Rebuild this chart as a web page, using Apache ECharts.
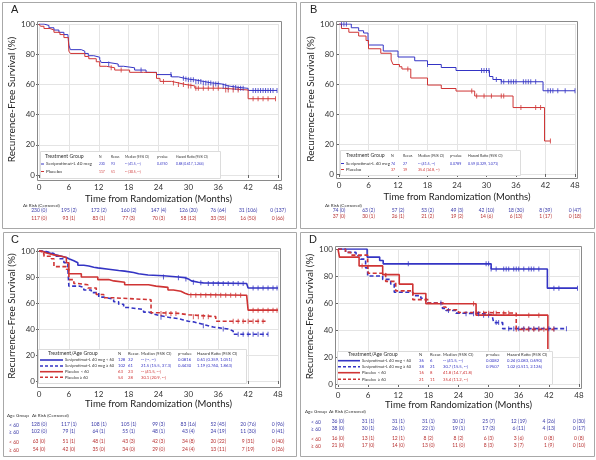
<!DOCTYPE html>
<html><head><meta charset="utf-8">
<script src="https://cdn.jsdelivr.net/npm/echarts@6/dist/echarts.min.js"></script>
<style>html,body{margin:0;padding:0;background:#fff}#c{width:596px;height:460px}</style>
</head><body><div id="c"></div>
<script>
// ---------- DATA ----------
const months = [0,6,12,18,24,30,36,42,48];
const yTicks = [0,20,40,60,80,100];

// Panel A (all patients)
const aSevi = [[0,100],[1,99],[2,97.5],[3,96],[4,94.5],[5,93],[5.8,92],[6,86],[6.3,83],[8.5,82],[9.2,80.5],[9.9,79],[11,78],[12.2,76.5],[12.5,74.5],[14,73.5],[15.9,72],[17,71],[19.2,69.5],[21.5,68],[23.6,66.5],[26.6,65],[28,64],[29.3,63.5],[30,63],[31.3,62],[33,61],[34.6,60.3],[36.7,59],[38,58],[40,57.4],[42,56],[47.8,56]];
const aPlac = [[0,100],[0.3,98.5],[1,97],[2.2,96],[3,94.5],[4.2,93],[5,91],[5.9,89],[6,82],[6.3,80.5],[9.2,78.5],[10,77],[11.5,75],[12.2,72],[13.5,71],[15.2,69.5],[18.2,68],[21,67.8],[23.6,64],[24.3,62],[26.6,61],[28,60],[29.3,59],[31.3,57.5],[36.7,56.3],[42,50.5],[47.5,50.5]];
const aSeviCens = [14,20.5,26.5,29,29.5,30,30.5,31,31.5,32,32.5,33,33.5,34,34.5,35,35.5,36,37,37.5,38,39,39.5,40,40.5,41,43,43.5,44,44.5,45,45.5,46,46.5,47,47.8];
const aPlacCens = [14.5,16.5,25,27,28,29,30,30.5,31.5,32,33,34,35,36,37.5,38,39,40,43,44,45,46,47.5];
const aRiskSevi = ['230 (0)','195 (2)','172 (2)','160 (2)','147 (4)','126 (20)','76 (64)','31 (106)','0 (137)'];
const aRiskPlac = ['117 (0)','93 (1)','83 (1)','77 (3)','70 (3)','58 (12)','33 (35)','16 (50)','0 (66)'];
const aLegendHeader = ['Treatment Group','N','Recur.','Median (95% CI)','p-value','Hazard Ratio (95% CI)'];
const aLegendRows = [['Seviprotimut-L 40 mcg','230','93','-- (41.5, --)','0.4750','0.88 (0.617, 1.244)'],['Placebo','117','51','-- (30.5, --)','','']];

// Panel B
const bSevi = [[0,100],[2.5,97.5],[4,95.5],[5,94],[5.9,90],[6,86],[9,82],[12,78],[15.4,75.5],[18,73],[20.8,71],[23.8,69],[30.6,65],[31.3,63],[33,61.5],[41.5,55.5],[48,55.5]];
const bPlac = [[0,100],[0.5,97],[2,94.5],[4,92],[5.5,89],[6,83.5],[8.5,80.5],[10.6,76],[11,73],[12.3,71.5],[12.8,70],[14.6,64],[18,59.3],[20.8,57],[23.8,55.3],[27.6,52],[35.4,44.3],[41.8,22],[43,22]];
const bSeviCens = [0.5,1,1.5,18,29,29.5,30,30.5,32,33,33.5,34.5,35,35.5,36,37.5,38,38.5,39,40,42.5,43,43.5,44.5,46,48];
const bPlacCens = [14,27,28,29.5,31,33,33.5,37,40,41,43];
const bRiskSevi = ['74 (0)','63 (2)','57 (2)','53 (2)','49 (3)','42 (10)','18 (30)','8 (39)','0 (47)'];
const bRiskPlac = ['37 (0)','30 (1)','26 (1)','21 (2)','19 (2)','14 (6)','6 (13)','1 (17)','0 (18)'];
const bLegendHeader = ['Treatment Group','N','Recur.','Median (95% CI)','p-value','Hazard Ratio (95% CI)'];
const bLegendRows = [['Seviprotimut-L 40 mcg','74','27','-- (41.5, --)','0.0789','0.59 (0.329, 1.071)'],['Placebo','37','19','35.4 (14.8, --)','','']];

// Panel C (age groups)
const cSeviLt = [[0,100],[0.5,99],[1.5,98],[2.5,97],[3.5,96],[4.5,95],[5.5,94],[6,92.5],[7,91],[7.8,89],[9,88.5],[10,87.5],[11,87],[11.8,86],[14,85],[16,84.5],[17.2,83.5],[19,82.5],[20,81.5],[21.9,81],[25,80],[28,79.5],[29.3,78.5],[30,77],[30.6,76],[32,75.5],[33,75],[41.7,75],[42,71.5],[48,71.5]];
const cSeviGe = [[0,100],[1,99],[2,98],[3,96],[4,94],[5,91],[5.8,86],[6,73],[8,72],[9,70],[10.5,68],[12,64.5],[13,63],[15,61],[16,59],[17,56.5],[18,55],[21,53],[22,51.5],[23,50.5],[24,49],[26,48],[28,47],[29,46],[30,45.5],[31,44.5],[32,43.5],[33,42.5],[34,41.5],[35,40.5],[37,40],[38,38.5],[39,36],[46,36]];
const cPlacLt = [[0,100],[0.5,98.5],[1.5,97],[3,96],[4.5,95],[5.5,91],[6,82.5],[8.5,80],[11.8,78],[14,77],[15,76],[17.2,74],[22,73],[23.5,72],[25.9,70],[27,69],[28.5,67.5],[29.3,66.5],[30,66],[41.7,66],[42,54.5],[48,54.5]];
const cPlacGe = [[0,100],[0.5,98],[1,96],[2.5,94],[3,88],[5.5,86],[6,78],[7,75],[7.8,74],[9.8,71.5],[11.5,66.5],[13,64],[15,62.5],[22.5,52.5],[24,52],[28,51],[30,49.5],[35.5,46],[45.5,46]];
const cSeviLtCens = [25,28,29.5,31,32.5,34,35,36,37,38,39,40,41,43,44,45,46,47,47.8];
const cSeviGeCens = [24.5,33,37,40,41,42,43,44,45,46];
const cPlacLtCens = [30.5,31.5,32.5,33.5,34.5,35.5,36.5,37.5,38.5,39.5,40.5,43,44,45,46,47,47.8];
const cPlacGeCens = [24.5,25.5,26.5,27.5,31,32,33,34,39,40,41,42,43,44,45];
const cRiskSeviLt = ['128 (0)','117 (1)','108 (1)','105 (1)','99 (3)','83 (16)','52 (45)','20 (76)','0 (96)'];
const cRiskSeviGe = ['102 (0)','79 (1)','64 (1)','55 (1)','48 (1)','43 (4)','24 (19)','11 (30)','0 (41)'];
const cRiskPlacLt = ['63 (0)','51 (1)','48 (1)','43 (3)','42 (3)','34 (8)','20 (22)','9 (31)','0 (40)'];
const cRiskPlacGe = ['54 (0)','42 (0)','35 (0)','34 (0)','29 (0)','24 (4)','13 (11)','7 (19)','0 (26)'];
const cLegendHeader = ['Treatment/Age Group','N','Recur.','Median (95% CI)','p-value','Hazard Ratio (95% CI)'];
const cLegendRows = [
  ['Seviprotimut-L 40 mcg < 60','128','32','-- (--, --)','0.0816','0.61 (0.359, 1.051)'],
  ['Seviprotimut-L 40 mcg ≥ 60','102','61','21.5 (15.5, 37.3)','0.4430','1.19 (0.760, 1.863)'],
  ['Placebo  < 60','63','23','-- (41.5, --)','',''],
  ['Placebo ≥ 60','54','28','30.1 (20.9, --)','','']];

// Panel D
const dSeviLt = [[0,100],[5.8,94],[8.3,91.5],[9,89],[30.5,85.2],[41.7,71],[47.7,71]];
const dSeviGe = [[0,100],[1.5,97.5],[3.6,95],[4.5,92.5],[5.5,86],[5.9,80],[8.9,77.5],[10.5,74],[11.2,68],[14.9,65.5],[16.5,63.5],[17.5,60],[20.8,56],[21.5,54.5],[23.5,52.5],[24.2,52],[29,51],[30.8,49],[31,45.5],[32.8,41],[45.5,41]];
const dPlacLt = [[0,100],[0.3,94],[4.2,87.5],[8.9,81],[12.2,74],[14.9,67],[17.5,59.5],[27.5,51],[41.8,26]];
const dPlacGe = [[0,100],[1.5,97.5],[2.5,95.5],[5.9,91],[6,82],[9.5,76],[11.5,69],[14.9,62.5],[18,60],[21,57],[21.5,55],[24,53],[28.5,52.5],[35.5,40.5],[43,40.5]];
const dSeviLtCens = [14,29.5,30,30.5,31.5,33,33.5,34,35,35.5,36,37,38,38.5,39,40,43,44,47.7];
const dSeviGeCens = [20.5,22,25.5,27,28,29,30,31.5,32,34,35,36,37,38,39,40,42,43,45.5];
const dPlacLtCens = [4.8,27,38,40];
const dPlacGeCens = [27.5,29,30,31,31.5,33,34,35.5,37,38,39,40,41,43];
const dRiskSeviLt = ['36 (0)','31 (1)','31 (1)','31 (1)','30 (2)','25 (7)','12 (19)','4 (26)','0 (30)'];
const dRiskSeviGe = ['38 (0)','30 (1)','26 (1)','22 (1)','19 (1)','17 (3)','6 (11)','4 (13)','0 (17)'];
const dRiskPlacLt = ['16 (0)','13 (1)','12 (1)','8 (2)','8 (2)','6 (3)','3 (6)','0 (8)','0 (8)'];
const dRiskPlacGe = ['21 (0)','17 (0)','14 (0)','13 (0)','11 (0)','8 (3)','3 (7)','1 (9)','0 (10)'];
const dLegendHeader = ['Treatment/Age Group','N','Recur.','Median (95% CI)','p-value','Hazard Ratio (95% CI)'];
const dLegendRows = [
  ['Seviprotimut-L 40 mcg < 60','36','6','-- (41.5, --)','0.0082','0.24 (0.083, 0.690)'],
  ['Seviprotimut-L 40 mcg ≥ 60','38','21','30.7 (15.5, --)','0.9507','1.02 (0.511, 2.126)'],
  ['Placebo  < 60','16','8','41.8 (14.7,41.8)','',''],
  ['Placebo  ≥ 60','21','11','35.4 (11.2, --)','','']];

const ageLabels = ['< 60','≥ 60','< 60','≥ 60'];

// ---------- STYLE / LAYOUT ----------
const FONT = 'Lato, "Liberation Sans", sans-serif';
const BLUE = '#3434c4', RED = '#cf3434';
const BLUE_T = '#3a3aa8', RED_T = '#b83232';

function survAt(curve, t){ let s = curve[0][1]; for (const p of curve){ if (p[0] <= t) s = p[1]; else break; } return s; }

const panels = [
 { letter:'A', letterPos:[11,4], grid:{left:39,top:24,width:239,height:151}, frame:[37,21,281,180], border:[2,2,296,228],
   xOff:5, yOff:2, xGap:14, yGap:14, lw:1,
   curves:[{d:aSevi,c:aSeviCens,col:BLUE,dash:false},{d:aPlac,c:aPlacCens,col:RED,dash:false}],
   risk:[{row:aRiskSevi,col:BLUE_T,off:33},{row:aRiskPlac,col:RED_T,off:41}],
   texts:[{t:'At Risk (Censored)',x:23,y:206}],
   legend:{box:[40,151,220,178],headerY:156,headerX:45,cols:[99,111,125,157,176],rowYs:[164,171.5],sample:[41,44],labelX:46,labelFs:4.6,colFs:3.3,header:aLegendHeader,rows:aLegendRows,rowCols:[BLUE,RED],rowDash:[false,false]} },
 { letter:'B', letterPos:[310,4], grid:{left:339,top:24,width:236,height:150}, frame:[336,21,577,178], border:[300,2,594,228],
   xOff:4, yOff:3, xGap:14, yGap:13, lw:1,
   curves:[{d:bSevi,c:bSeviCens,col:BLUE,dash:false},{d:bPlac,c:bPlacCens,col:RED,dash:false}],
   risk:[{row:bRiskSevi,col:BLUE_T,off:34},{row:bRiskPlac,col:RED_T,off:40}],
   texts:[{t:'At Risk (Censored)',x:325,y:206}],
   legend:{box:[340,150,520,175],headerY:155.5,headerX:346,cols:[391,403,418,450,468],rowYs:[163.5,169.5],sample:[341,344],labelX:346,labelFs:4.4,colFs:3.6,header:bLegendHeader,rows:bLegendRows,rowCols:[BLUE,RED],rowDash:[false,false]} },
 { letter:'C', letterPos:[11,234], grid:{left:39,top:251,width:239,height:130}, frame:[37,248,280,387], border:[3,232,296,456],
   xOff:6, yOff:2, xGap:11, yGap:15, lw:1.6,
   curves:[{d:cSeviLt,c:cSeviLtCens,col:BLUE,dash:false},{d:cSeviGe,c:cSeviGeCens,col:BLUE,dash:true},{d:cPlacLt,c:cPlacLtCens,col:RED,dash:false},{d:cPlacGe,c:cPlacGeCens,col:RED,dash:true}],
   risk:[{row:cRiskSeviLt,col:BLUE_T,off:41,age:0},{row:cRiskSeviGe,col:BLUE_T,off:48,age:1},{row:cRiskPlacLt,col:RED_T,off:58,age:2},{row:cRiskPlacGe,col:RED_T,off:66,age:3}],
   ageX:9,
   texts:[{t:'Age Group',x:7,y:416},{t:'At Risk (Censored)',x:32,y:416}],
   legend:{box:[38,349,246,383],headerY:353,headerX:48,cols:[118,128,141,178,197],rowYs:[360,366,371.7,377.3],sample:[40,63],labelX:65,labelFs:4.0,colFs:4.2,header:cLegendHeader,rows:cLegendRows,rowCols:[BLUE,BLUE,RED,RED],rowDash:[false,true,false,true]} },
 { letter:'D', letterPos:[309,234], grid:{left:338,top:249,width:241,height:135}, frame:[335,246,581,388], border:[300,232,594,456],
   xOff:4, yOff:3, xGap:11, yGap:13, lw:1.6,
   curves:[{d:dSeviLt,c:dSeviLtCens,col:BLUE,dash:false},{d:dSeviGe,c:dSeviGeCens,col:BLUE,dash:true},{d:dPlacLt,c:dPlacLtCens,col:RED,dash:false},{d:dPlacGe,c:dPlacGeCens,col:RED,dash:true}],
   risk:[{row:dRiskSeviLt,col:BLUE_T,off:35,age:0},{row:dRiskSeviGe,col:BLUE_T,off:42,age:1},{row:dRiskPlacLt,col:RED_T,off:52,age:2},{row:dRiskPlacGe,col:RED_T,off:59,age:3}],
   ageX:311,
   texts:[{t:'Age Group',x:305,y:412},{t:'At Risk (Censored)',x:329,y:412}],
   legend:{box:[337,351,552,384],headerY:354.5,headerX:348,cols:[419,430,443,486,507],rowYs:[360.7,366.7,372.7,379.3],sample:[338,360],labelX:362,labelFs:4.0,colFs:4.2,header:dLegendHeader,rows:dLegendRows,rowCols:[BLUE,BLUE,RED,RED],rowDash:[false,true,false,true]} }
];

// ---------- BUILD ----------
const grids = [], xAxes = [], yAxes = [], series = [], graphics = [];
panels.forEach((p, gi) => {
  grids.push(Object.assign({containLabel:false}, p.grid));
  const xi = xAxes.length, yi = yAxes.length;
  xAxes.push({type:'value', gridIndex:gi, min:months[0], max:months[months.length-1], interval:6, offset:p.xOff,
    axisLine:{show:false}, axisTick:{show:true,length:3,lineStyle:{color:'#666'}},
    axisLabel:{fontSize:8, color:'#333', margin:3, fontFamily:FONT},
    splitLine:{show:true, lineStyle:{color:'#e4e4e4', width:1}},
    name:'Time from Randomization (Months)', nameLocation:'middle', nameGap:p.xGap,
    nameTextStyle:{fontSize:9.5, color:'#222', fontFamily:FONT}});
  yAxes.push({type:'value', gridIndex:gi, min:yTicks[0], max:yTicks[yTicks.length-1], interval:20, offset:p.yOff,
    axisLine:{show:false}, axisTick:{show:true,length:3,lineStyle:{color:'#666'}},
    axisLabel:{fontSize:8, color:'#333', margin:2, fontFamily:FONT},
    splitLine:{show:true, lineStyle:{color:'#e4e4e4', width:1}},
    name:'Recurrence-Free Survival (%)', nameLocation:'middle', nameGap:p.yGap,
    nameTextStyle:{fontSize:10, color:'#222', fontFamily:FONT}});
  p.risk.forEach(r => {
    xAxes.push({type:'value', gridIndex:gi, min:0, max:48, interval:6, position:'bottom', offset:r.off,
      axisLine:{show:false}, axisTick:{show:false}, splitLine:{show:false},
      axisLabel:{fontSize:5, color:r.col, margin:0, fontFamily:FONT, showMinLabel:true, showMaxLabel:true,
        formatter: v => r.row[Math.round(v/6)]}});
    if (r.age !== undefined) {
      graphics.push({type:'text', x:p.ageX, y:p.grid.top+p.grid.height+r.off+3, z:100,
        style:{text:ageLabels[r.age], fontSize:5, fontFamily:FONT, fill:r.col, verticalAlign:'middle'}});
    }
  });
  p.curves.forEach(cv => {
    series.push({type:'line', xAxisIndex:xi, yAxisIndex:yi, data:cv.d, step:'end', showSymbol:false, silent:true,
      lineStyle:{color:cv.col, width:p.lw, type: cv.dash ? [4,2.5] : 'solid'}, z:3});
    series.push({type:'scatter', xAxisIndex:xi, yAxisIndex:yi, data:cv.c.map(t => [t, survAt(cv.d, t)]), silent:true,
      symbol:'rect', symbolSize:[1,5], itemStyle:{color:cv.col}, z:4});
  });
  // panel border and plot frame
  const b = p.border, f = p.frame;
  graphics.push({type:'rect', z:50, shape:{x:b[0]+0.5,y:b[1]+0.5,width:b[2]-b[0],height:b[3]-b[1]}, style:{fill:'none',stroke:'#a8a8a8',lineWidth:1}});
  graphics.push({type:'rect', z:50, shape:{x:f[0]+0.5,y:f[1]+0.5,width:f[2]-f[0],height:f[3]-f[1]}, style:{fill:'none',stroke:'#8a8a8a',lineWidth:1}});
  graphics.push({type:'text', z:60, x:p.letterPos[0], y:p.letterPos[1], style:{text:p.letter, fontSize:11, fontFamily:'"Liberation Sans", sans-serif', fill:'#222'}});
  p.texts.forEach(t => graphics.push({type:'text', z:60, x:t.x, y:t.y, style:{text:t.t, fontSize:4.6, fontFamily:FONT, fill:'#333', verticalAlign:'middle'}}));
  // legend box
  const L = p.legend, bx = L.box;
  graphics.push({type:'rect', z:70, shape:{x:bx[0]+0.5,y:bx[1]+0.5,width:bx[2]-bx[0],height:bx[3]-bx[1]}, style:{fill:'#fff',stroke:'#dcdcdc',lineWidth:1}});
  graphics.push({type:'text', z:71, x:L.headerX, y:L.headerY, style:{text:L.header[0], fontSize:5.2, fontFamily:FONT, fill:'#333', verticalAlign:'middle'}});
  L.header.slice(1).forEach((h, k) => graphics.push({type:'text', z:71, x:L.cols[k], y:L.headerY+0.5, style:{text:h, fontSize:L.colFs, fontFamily:FONT, fill:'#333', verticalAlign:'middle'}}));
  L.rows.forEach((row, ri) => {
    const y = L.rowYs[ri], col = L.rowCols[ri];
    graphics.push({type:'line', z:71, shape:{x1:L.sample[0], y1:y, x2:L.sample[1], y2:y}, style:{stroke:col, lineWidth:p.lw, lineDash: L.rowDash[ri] ? [3,2] : null}});
    graphics.push({type:'text', z:71, x:L.labelX, y:y, style:{text:row[0], fontSize:L.labelFs, fontFamily:FONT, fill:'#333', verticalAlign:'middle'}});
    row.slice(1).forEach((v, k) => { if (v) graphics.push({type:'text', z:71, x:L.cols[k], y:y, style:{text:v, fontSize:L.colFs, fontFamily:FONT, fill:col, verticalAlign:'middle'}}); });
  });
});

const chart = echarts.init(document.getElementById('c'), null, {renderer:'canvas'});
chart.setOption({
  animation:false, backgroundColor:'#fff',
  grid:grids, xAxis:xAxes, yAxis:yAxes, series:series, graphic:graphics
});
</script></body></html>
